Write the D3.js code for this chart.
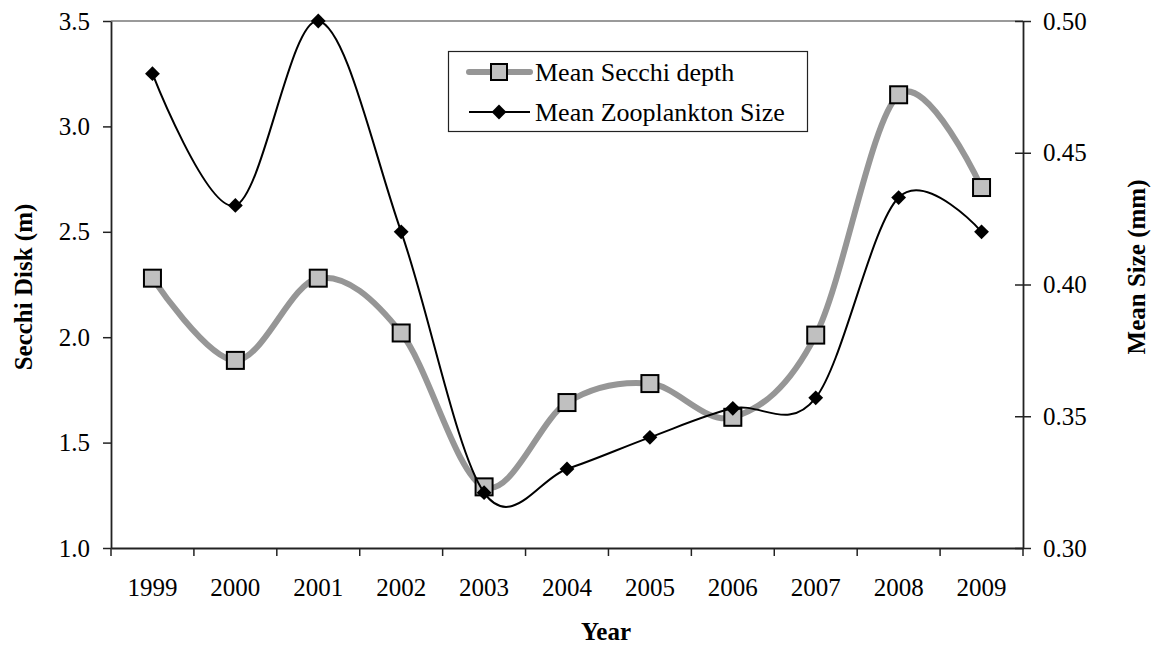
<!DOCTYPE html>
<html>
<head>
<meta charset="utf-8">
<script src="https://cdn.jsdelivr.net/npm/d3@7"></script>
<style>
  html, body { margin: 0; padding: 0; background: #fff; }
  svg { display: block; font-family: "Liberation Serif", "Times New Roman", serif; }
</style>
</head>
<body>
<svg id="chart" width="1153" height="646"></svg>
<script>
const years = ["1999","2000","2001","2002","2003","2004","2005","2006","2007","2008","2009"];
const secchiDepth = [2.28, 1.89, 2.28, 2.02, 1.29, 1.69, 1.78, 1.62, 2.01, 3.15, 2.71];
const zooplanktonSize = [0.480, 0.430, 0.500, 0.420, 0.321, 0.330, 0.342, 0.353, 0.357, 0.433, 0.420];
const leftTicks = [1.0, 1.5, 2.0, 2.5, 3.0, 3.5];
const rightTicks = [0.30, 0.35, 0.40, 0.45, 0.50];
const seriesNames = ["Mean Secchi depth", "Mean Zooplankton Size"];

const svg = d3.select("#chart");
const L = 111, R = 1023, T = 21, B = 548;

const x = d3.scaleBand().domain(years).range([L, R]).paddingInner(0).paddingOuter(0);
const yL = d3.scaleLinear().domain([1.0, 3.5]).range([B, T]);
const yR = d3.scaleLinear().domain([0.30, 0.50]).range([B, T]);
const cx = d => x(d) + x.bandwidth() / 2;

// top border of plot area
svg.append("line").attr("x1", L).attr("x2", R).attr("y1", T).attr("y2", T)
  .attr("stroke", "#9a9a9a").attr("stroke-width", 2);

// Left axis
const gL = svg.append("g").attr("transform", `translate(${L},0)`)
  .call(d3.axisLeft(yL).tickValues(leftTicks).tickFormat(d3.format(".1f")).tickSize(8).tickSizeOuter(0).tickPadding(13));
// Right axis
const gR = svg.append("g").attr("transform", `translate(${R},0)`)
  .call(d3.axisRight(yR).tickValues(rightTicks).tickFormat(d3.format(".2f")).tickSize(8).tickSizeOuter(0).tickPadding(12));
gR.selectAll(".tick line").attr("x1", -8);
// Bottom axis
const gB = svg.append("g").attr("transform", `translate(0,${B})`)
  .call(d3.axisBottom(x).tickSize(0).tickSizeOuter(0).tickPadding(0));
gB.selectAll(".tick text").attr("y", 48).attr("dy", "0");
// boundary ticks on x
gB.selectAll("line.bt").data(d3.range(years.length + 1)).join("line").attr("class", "bt")
  .attr("x1", i => L + i * x.step()).attr("x2", i => L + i * x.step())
  .attr("y1", 0).attr("y2", 8).attr("stroke", "#222").attr("stroke-width", 1.5);

[gL, gR, gB].forEach(g => {
  g.selectAll(".domain").attr("stroke", "#222").attr("stroke-width", 1.8);
  g.selectAll(".tick line").attr("stroke", "#222").attr("stroke-width", 1.5);
  g.selectAll(".tick text").attr("font-size", 25).attr("fill", "#000")
    .attr("font-family", "Liberation Serif, Times New Roman, serif");
});

// Axis titles
svg.append("text").attr("transform", "translate(32,287) rotate(-90)")
  .attr("text-anchor", "middle").attr("font-size", 25).attr("font-weight", "bold").text("Secchi Disk (m)");
svg.append("text").attr("transform", "translate(1145,267) rotate(-90)")
  .attr("text-anchor", "middle").attr("font-size", 25).attr("font-weight", "bold").text("Mean Size (mm)");
svg.append("text").attr("x", 606).attr("y", 640)
  .attr("text-anchor", "middle").attr("font-size", 25).attr("font-weight", "bold").text("Year");

// Lines
const curve = d3.curveCardinal.tension(0);
const secchiLine = d3.line().x((d, i) => cx(years[i])).y(d => yL(d)).curve(curve);
const zooLine = d3.line().x((d, i) => cx(years[i])).y(d => yR(d)).curve(curve);

svg.append("path").datum(secchiDepth).attr("d", secchiLine)
  .attr("fill", "none").attr("stroke", "#969696").attr("stroke-width", 6);
svg.append("g").selectAll("rect").data(secchiDepth).join("rect")
  .attr("x", (d, i) => cx(years[i]) - 8.5).attr("y", d => yL(d) - 8.5)
  .attr("width", 17).attr("height", 17)
  .attr("fill", "#c0c0c0").attr("stroke", "#000").attr("stroke-width", 2);

svg.append("path").datum(zooplanktonSize).attr("d", zooLine)
  .attr("fill", "none").attr("stroke", "#000").attr("stroke-width", 2);
const diamond = d3.symbol(d3.symbolSquare, 110);
svg.append("g").selectAll("path").data(zooplanktonSize).join("path")
  .attr("d", diamond)
  .attr("transform", (d, i) => `translate(${cx(years[i])},${yR(d)}) rotate(45)`)
  .attr("fill", "#000");

// Legend
const lg = svg.append("g");
lg.append("rect").attr("x", 448.5).attr("y", 51.5).attr("width", 359).attr("height", 80)
  .attr("fill", "#fff").attr("stroke", "#222").attr("stroke-width", 1.2);
lg.append("line").attr("x1", 469).attr("x2", 530).attr("y1", 72).attr("y2", 72)
  .attr("stroke", "#969696").attr("stroke-width", 6).attr("stroke-linecap", "round");
lg.append("rect").attr("x", 491).attr("y", 64).attr("width", 16).attr("height", 16)
  .attr("fill", "#c0c0c0").attr("stroke", "#000").attr("stroke-width", 2);
lg.append("line").attr("x1", 469).attr("x2", 530).attr("y1", 112).attr("y2", 112)
  .attr("stroke", "#000").attr("stroke-width", 2);
lg.append("path").attr("d", diamond).attr("transform", "translate(499,112) rotate(45)").attr("fill", "#000");
lg.selectAll("text").data(seriesNames).join("text")
  .attr("x", 535).attr("y", (d, i) => 72 + i * 40).attr("dy", "0.33em")
  .attr("font-size", 26).text(d => d);
</script>
</body>
</html>
